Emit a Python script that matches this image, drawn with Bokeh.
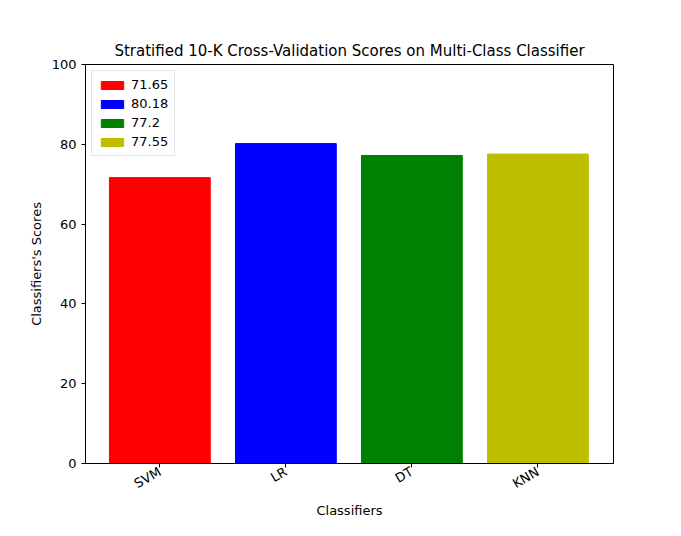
from bokeh.plotting import figure
from bokeh.models import Range1d, FixedTicker, Legend, LegendItem, ColumnDataSource
from bokeh.embed import file_html
from bokeh.resources import INLINE
import math

classifiers = ["SVM", "LR", "DT", "KNN"]
scores = [71.65, 80.18, 77.2, 77.55]
colors = ["#ff0000", "#0000ff", "#008000", "#bfbf00"]
labels = ["71.65", "80.18", "77.2", "77.55"]

p = figure(width=665, height=520, output_backend="svg", toolbar_location=None,
           x_range=Range1d(-0.59, 3.6), y_range=Range1d(0, 100),
           min_border_left=85, min_border_right=52, min_border_top=64, min_border_bottom=40,
           title="Stratified 10-K Cross-Validation Scores on Multi-Class Classifier")
p.title.text_font = "DejaVu Sans"
p.title.text_font_size = "15px"
p.title.text_font_style = "normal"
p.title.text_color = "black"
p.title.align = "center"
p.grid.visible = False
p.outline_line_color = "black"
items = []
for i, (c, s, col, lab) in enumerate(zip(classifiers, scores, colors, labels)):
    src = ColumnDataSource(dict(x=[i], top=[s]))
    r = p.vbar(x="x", top="top", width=0.8, color=col, source=src)
    items.append(LegendItem(label=lab, renderers=[r]))
leg = Legend(items=items, location="top_left", label_text_font="DejaVu Sans",
             label_text_font_size="13px", label_text_color="black", border_line_color="#cccccc",
             glyph_width=28, glyph_height=10, spacing=4, padding=6, margin=6)
p.add_layout(leg)
p.xaxis.ticker = FixedTicker(ticks=list(range(len(classifiers))))
p.xaxis.major_label_overrides = {i: c for i, c in enumerate(classifiers)}
p.xaxis.major_label_orientation = math.radians(30)
p.yaxis.ticker = FixedTicker(ticks=[0, 20, 40, 60, 80, 100])
p.xaxis.axis_label = "Classifiers"
p.yaxis.axis_label = "Classifiers's Scores"
p.xaxis.axis_label_standoff = 2
p.xaxis.major_label_standoff = 3
for ax in (p.xaxis, p.yaxis):
    ax.axis_label_text_font = "DejaVu Sans"
    ax.axis_label_text_font_style = "normal"
    ax.axis_label_text_font_size = "13px"
    ax.axis_label_text_color = "black"
    ax.major_label_text_font = "DejaVu Sans"
    ax.major_label_text_font_size = "13px"
    ax.major_label_text_color = "black"
    ax.minor_tick_line_color = None
    ax.major_tick_in = 0
    ax.major_tick_out = 4
    ax.axis_line_color = "black"

open("out.html", "w").write(file_html(p, INLINE))
